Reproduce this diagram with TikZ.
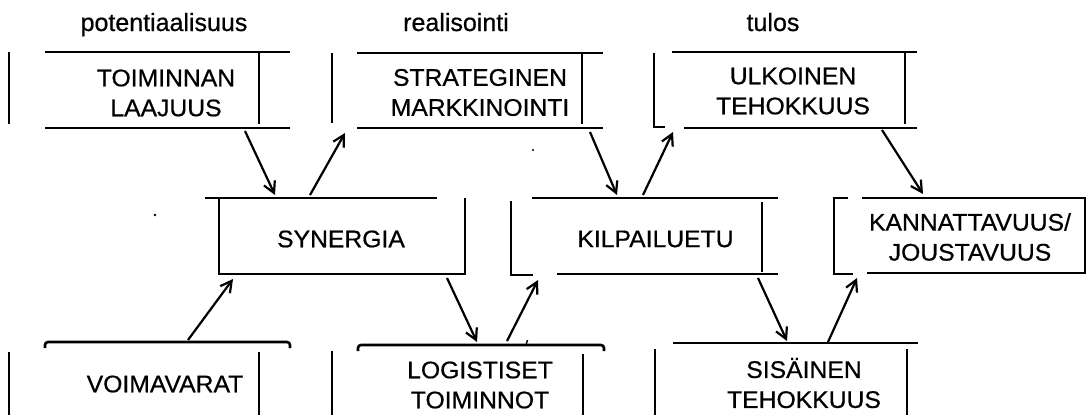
\documentclass[tikz,border=0pt]{standalone}
\usepackage{fontspec}
\setmainfont{Liberation Sans}[FakeStretch=1.03,FakeBold=0.6]
\newfontfamily\labfont{Liberation Sans}[FakeBold=0.6]
\usetikzlibrary{arrows.meta}
\begin{document}
\begin{tikzpicture}[x=1pt,y=-1pt,
  ln/.style={line width=2.6pt},
  arr/.style={line width=2.2pt,-{Straight Barb[length=11pt,width=12pt,line width=2.2pt]}},
  txt/.style={inner sep=0pt, align=center, font=\fontsize{24}{30}\selectfont},
  lab/.style={inner sep=0pt, anchor=base, font=\labfont\fontsize{25}{28}\selectfont}]
\useasboundingbox (0,0) rectangle (1087,415);

% column headings
\node[lab] (h1) at (164,31) {potentiaalisuus};
\node[lab] (h2) at (456,31) {realisointi};
\node[lab] (h3) at (773,31) {tulos};

% TOIMINNAN LAAJUUS
\draw[ln] (9,52) -- (9,124);
\draw[ln] (45,52) -- (290,52);
\draw[ln] (45,128) -- (290,128);
\draw[ln] (259,53) -- (259,124);
\node[txt] (laajuus) at (166,93) {TOIMINNAN\\LAAJUUS};

% STRATEGINEN MARKKINOINTI
\draw[ln] (332,53) -- (332,123);
\draw[ln] (357,53) -- (603,53);
\draw[ln] (357,128) -- (603,128);
\draw[ln] (582,53) -- (582,124);
\node[txt] (markk) at (480,92.5) {STRATEGINEN\\MARKKINOINTI};

% ULKOINEN TEHOKKUUS
\draw[ln] (665,127) -- (654,127) -- (654,53);
\draw[ln] (672,52) -- (917,52);
\draw[ln] (684,128) -- (917,128);
\draw[ln] (905,53) -- (905,124);
\node[txt] (ulk) at (793,91) {ULKOINEN\\TEHOKKUUS};

% SYNERGIA
\draw[ln] (205,198) -- (437,198);
\draw[ln] (219,198) -- (219,274) -- (465,274) -- (465,198);
\node[txt] (syn) at (341,239) {SYNERGIA};

% KILPAILUETU
\draw[ln] (533,275) -- (511,275) -- (511,201);
\draw[ln] (532,198) -- (778,198);
\draw[ln] (557,274) -- (778,274);
\draw[ln] (762,202) -- (762,272);
\node[txt] (kilp) at (655.5,239) {KILPAILUETU};

% KANNATTAVUUS / JOUSTAVUUS
\draw[ln] (848,198) -- (834,198) -- (834,274) -- (853,274);
\draw[ln] (862,198) -- (1085,198) -- (1085,273) -- (867,273);
\node[txt] (kann) at (970,237) {KANNATTAVUUS/\\JOUSTAVUUS};

% VOIMAVARAT
\draw[ln, rounded corners=3pt] (45,348) -- (45,342) -- (290,342) -- (290,348);
\draw[ln] (9,352) -- (9,415);
\draw[ln] (259,352) -- (259,415);
\draw[ln] (332,351) -- (332,415);
\node[txt] (voima) at (165,384) {VOIMAVARAT};

% LOGISTISET TOIMINNOT
\draw[ln, rounded corners=3pt] (358,351) -- (358,345) -- (604,345) -- (604,351);
\draw[line width=1.4pt] (526,345) -- (527.5,340);
\draw[ln] (583,354) -- (583,415);
\node[txt] (logi) at (480,385) {LOGISTISET\\TOIMINNOT};

% SISÄINEN TEHOKKUUS
\draw[ln] (655,349) -- (655,415);
\draw[ln] (673,343) -- (918,343);
\draw[ln] (907,349) -- (907,415);
\node[txt] (sis) at (804,383) {SISÄINEN\\TEHOKKUUS};

% stray dots
\fill (155,215) circle (1.4);
\fill (533,150) circle (1.1);

% arrow end points
\coordinate (a1s) at (245,131); \coordinate (a1e) at (275,195);
\coordinate (a2s) at (310,195); \coordinate (a2e) at (345,133);
\coordinate (a3s) at (590,132); \coordinate (a3e) at (617,195);
\coordinate (a4s) at (643,195); \coordinate (a4e) at (673,132);
\coordinate (a5s) at (882,130); \coordinate (a5e) at (923,194);
\coordinate (a6s) at (188,340); \coordinate (a6e) at (233,279);
\coordinate (a7s) at (447,278); \coordinate (a7e) at (477,342);
\coordinate (a8s) at (507,341); \coordinate (a8e) at (538,280);
\coordinate (a9s) at (758,278); \coordinate (a9e) at (787,341);
\coordinate (a10s) at (828,342); \coordinate (a10e) at (857,278);

\draw[arr] (a1s) -- (a1e);
\draw[arr] (a2s) -- (a2e);
\draw[arr] (a3s) -- (a3e);
\draw[arr] (a4s) -- (a4e);
\draw[arr] (a5s) -- (a5e);
\draw[arr] (a6s) -- (a6e);
\draw[arr] (a7s) -- (a7e);
\draw[arr] (a8s) -- (a8e);
\draw[arr] (a9s) -- (a9e);
\draw[arr] (a10s) -- (a10e);
\end{tikzpicture}
\end{document}
